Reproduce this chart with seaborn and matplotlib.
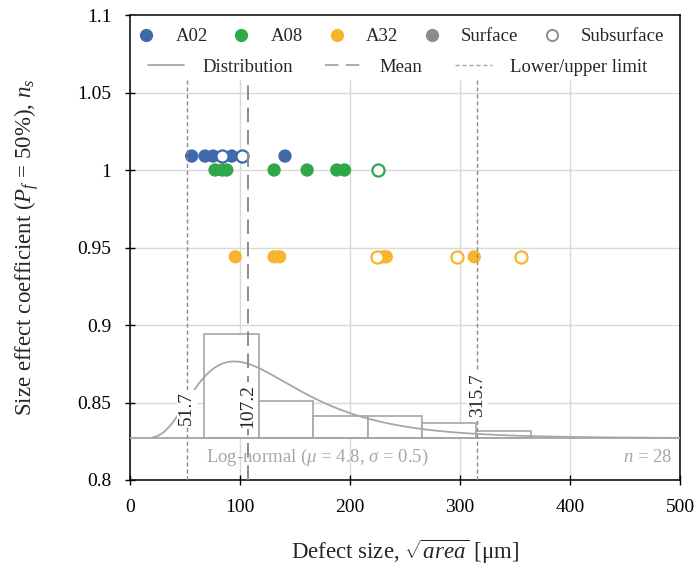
import numpy as np
import pandas as pd
import matplotlib
matplotlib.use("Agg")
import matplotlib.pyplot as plt
import seaborn as sns
from matplotlib.lines import Line2D
from matplotlib.patches import Rectangle
from matplotlib.ticker import FuncFormatter

# ---------------- data ----------------
alloys = ["A02", "A08", "A32"]
ns_a02 = 1.009
ns_a08 = 1.000
ns_a32 = 0.944
a02_surface = [56.1, 68.2, 75.5, 92.5, 140.9]
a02_subsurface = [83.4, 101.5]
a08_surface = [77.3, 84.0, 88.0, 131.0, 161.0, 188.0, 195.0]
a08_subsurface = [225.0]
a32_surface = [95.7, 131.0, 136.0, 230.0, 233.0, 313.0]
a32_subsurface = [224.5, 297.0, 355.0]

hist_edges = [67.5, 117.0, 166.5, 216.0, 265.5, 315.0, 364.5]
hist_counts = [14, 5, 3, 3, 2, 1]
lognorm_mu = 4.8
lognorm_sigma = 0.5
n_defects = 28
lower_limit = 51.7
mean_size = 107.2
upper_limit = 315.7

x_ticks = [0, 100, 200, 300, 400, 500]
y_ticks = [0.8, 0.85, 0.9, 0.95, 1.0, 1.05, 1.1]

# ---------------- style ----------------
sns.set_theme(style="white")
plt.rcParams["font.family"] = ["Liberation Serif", "DejaVu Serif"]
plt.rcParams["mathtext.fontset"] = "custom"
plt.rcParams["mathtext.rm"] = "Liberation Serif"
plt.rcParams["mathtext.it"] = "Liberation Serif:italic"
plt.rcParams["mathtext.bf"] = "Liberation Serif:bold"

palette = {"A02": "#3F69AA", "A08": "#2EA84A", "A32": "#F9B42D"}
grey_line = "#A6A6A6"
grey_ref = "#8C8C8C"

rows = []
for alloy, surf, sub, ns in [("A02", a02_surface, a02_subsurface, ns_a02),
                             ("A08", a08_surface, a08_subsurface, ns_a08),
                             ("A32", a32_surface, a32_subsurface, ns_a32)]:
    for v in surf:
        rows.append({"size": v, "ns": ns, "alloy": alloy, "location": "Surface"})
    for v in sub:
        rows.append({"size": v, "ns": ns, "alloy": alloy, "location": "Subsurface"})
df = pd.DataFrame(rows)

fig = plt.figure(figsize=(6.95, 5.7), dpi=100)
ax = fig.add_axes([130 / 695, 1 - 480 / 570, 550 / 695, 465 / 570])

ax.set_xlim(0, 500)
ax.set_ylim(0.8, 1.1)
ax.set_xticks(x_ticks)
ax.set_yticks(y_ticks)
ax.yaxis.set_major_formatter(FuncFormatter(lambda v, p: f"{v:g}"))
ax.grid(True, color="#D9D9D9", lw=1.0)
ax.set_axisbelow(True)
for s in ax.spines.values():
    s.set_color("black")
    s.set_linewidth(1.1)
ax.tick_params(axis="both", direction="inout", length=7, width=1.0,
               colors="black", labelsize=14)
ax.tick_params(axis="x", bottom=True, top=False, pad=10)
ax.tick_params(axis="y", left=True, right=False, pad=10)

# points
surf_df = df[df["location"] == "Surface"]
sns.scatterplot(data=surf_df, x="size", y="ns", hue="alloy", palette=palette,
                s=92, linewidth=0, ax=ax, legend=False, zorder=3)
sub_df = df[df["location"] == "Subsurface"]
for alloy in alloys:
    d = sub_df[sub_df["alloy"] == alloy]
    sns.scatterplot(data=d, x="size", y="ns", color="white",
                    edgecolor=palette[alloy], linewidth=1.6, s=76, ax=ax,
                    legend=False, zorder=4)

# white band behind legend
ax.add_patch(Rectangle((0, 0.86), 1, 0.14, transform=ax.transAxes,
                       facecolor="white", edgecolor="none", zorder=2.2))

ax.set_xlabel("Defect size, $\\sqrt{area}$ [μm]", fontsize=16.5, labelpad=16)
ax.set_ylabel("Size effect coefficient ($P_f$ = 50%), $n_s$", fontsize=16.5, labelpad=26)

# legends
h1 = [Line2D([], [], marker="o", ls="none", mfc=palette[a], mec=palette[a], ms=8.5)
      for a in alloys]
h1 += [Line2D([], [], marker="o", ls="none", mfc="#8C8C8C", mec="#8C8C8C", ms=8.5),
       Line2D([], [], marker="o", ls="none", mfc="white", mec="#8C8C8C", mew=1.4, ms=8)]
leg1 = ax.legend(h1, alloys + ["Surface", "Subsurface"], ncol=5, loc="center left",
                 bbox_to_anchor=(0.0128, 0.953), frameon=False, fontsize=13.5,
                 handlelength=1.0, handletextpad=1.05, columnspacing=1.3,
                 borderpad=0, borderaxespad=0)
leg1.set_zorder(6)
ax.add_artist(leg1)
h2 = [Line2D([], [], color=grey_line, lw=1.3),
      Line2D([], [], color=grey_line, lw=1.3, ls=(0, (7.5, 4))),
      Line2D([], [], color=grey_line, lw=1.0, ls=(0, (3, 2)))]
leg2 = ax.legend(h2, ["Distribution", "Mean", "Lower/upper limit"], ncol=3,
                 loc="center left", bbox_to_anchor=(0.032, 0.888), frameon=False,
                 fontsize=13.5, handlelength=1.95, handletextpad=0.95,
                 columnspacing=1.75, borderpad=0, borderaxespad=0)
leg2.set_zorder(6)

# histogram + distribution on a twin axis (counts)
ax2 = ax.twinx()
base = 0.827
unit = 0.0048
ax2.set_ylim((0.8 - base) / unit, (1.1 - base) / unit)
ax2.set_axis_off()

centers = [(hist_edges[i] + hist_edges[i + 1]) / 2 for i in range(len(hist_counts))]
sns.histplot(x=centers, weights=hist_counts, bins=hist_edges, ax=ax2,
             color="white", edgecolor=grey_line, linewidth=1.2, alpha=1,
             fill=True, zorder=1)

bw = hist_edges[1] - hist_edges[0]
xs = np.linspace(20, 500, 500)
pdf = np.exp(-(np.log(xs) - lognorm_mu) ** 2 / (2 * lognorm_sigma ** 2)) / (
    xs * lognorm_sigma * np.sqrt(2 * np.pi))
sns.lineplot(x=xs, y=n_defects * bw * pdf, ax=ax2, color=grey_line, lw=1.3, zorder=3)
ax2.axhline(0, color=grey_line, lw=1.3, zorder=3)

ax2.axvline(lower_limit, ymax=0.86, color=grey_ref, lw=1.0, ls=(0, (3, 2)), zorder=4)
ax2.axvline(upper_limit, ymax=0.86, color=grey_ref, lw=1.0, ls=(0, (3, 2)), zorder=4)
ax2.axvline(mean_size, ymax=0.86, color=grey_ref, lw=1.4, ls=(0, (7.5, 4)), zorder=4)

lab_kw = dict(rotation=90, ha="center", va="center", fontsize=14, color="#262626",
              bbox=dict(facecolor="white", edgecolor="none", pad=1.0), zorder=5,
              transform=ax.transData)
ax2.text(lower_limit, 0.8465, f"{lower_limit:.1f}", **lab_kw)
ax2.text(mean_size, 0.848, f"{mean_size:.1f}", **lab_kw)
ax2.text(upper_limit, 0.8548, f"{upper_limit:.1f}", **lab_kw)

ax2.text(170, 0.8145, "Log-normal ($\\mu$ = %.1f, $\\sigma$ = %.1f)" % (lognorm_mu, lognorm_sigma),
         ha="center", va="center", fontsize=13.5, color=grey_line, transform=ax.transData)
ax2.text(493, 0.8145, "$n$ = %d" % n_defects, ha="right", va="center",
         fontsize=13.5, color=grey_line, transform=ax.transData)

fig.savefig("out.png", dpi=100)
